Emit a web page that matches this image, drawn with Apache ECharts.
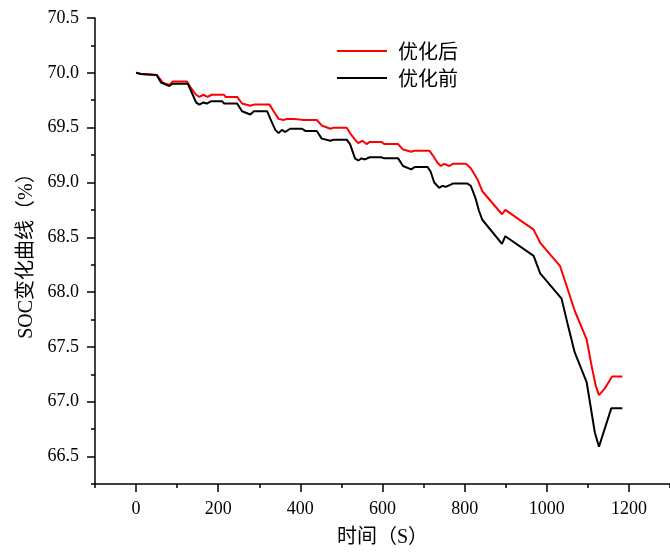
<!DOCTYPE html>
<html>
<head>
<meta charset="utf-8">
<script src="https://cdn.jsdelivr.net/npm/echarts@6/dist/echarts.min.js"></script>
<style>
  html, body { margin: 0; padding: 0; background: #fff; }
  #main { width: 670px; height: 553px; }
</style>
</head>
<body>
<div id="main"></div>
<script>
// 优化后
var timeAfter = [0, 12, 51, 65, 81, 89, 124, 134, 146, 154, 164, 174, 184, 214, 218, 246, 258, 278, 287, 325,
    335, 347, 359, 367, 384, 408, 440, 452, 473, 481, 513, 521, 533, 541, 551, 561, 569, 597, 605, 638,
    650, 670, 678, 714, 722, 734, 742, 750, 763, 771, 803, 815, 831, 843, 891, 899, 968, 984, 1032, 1048,
    1068, 1097, 1109, 1119, 1127, 1141, 1159, 1184];
var socAfter = [70.00, 69.99, 69.98, 69.91, 69.89, 69.92, 69.92, 69.86, 69.80, 69.78, 69.80, 69.78, 69.80, 69.80, 69.78, 69.78, 69.72, 69.70, 69.71, 69.71,
    69.65, 69.58, 69.57, 69.58, 69.58, 69.57, 69.57, 69.52, 69.49, 69.50, 69.50, 69.45, 69.39, 69.36, 69.38, 69.35, 69.37, 69.37, 69.35, 69.35,
    69.30, 69.28, 69.29, 69.29, 69.25, 69.18, 69.15, 69.17, 69.15, 69.17, 69.17, 69.13, 69.03, 68.92, 68.71, 68.75, 68.57, 68.45, 68.24, 68.06,
    67.83, 67.57, 67.33, 67.15, 67.06, 67.12, 67.23, 67.23];

// 优化前
var timeBefore = [0, 12, 50, 61, 81, 89, 126, 138, 146, 154, 164, 172, 182, 210, 214, 246, 258, 278, 287, 319,
    327, 339, 347, 355, 363, 375, 380, 404, 412, 440, 452, 473, 481, 513, 521, 533, 541, 549, 557, 569,
    597, 604, 638, 650, 670, 678, 710, 717, 726, 738, 746, 754, 766, 771, 807, 815, 827, 835, 843, 891,
    899, 968, 976, 984, 1036, 1052, 1068, 1097, 1117, 1127, 1157, 1184];
var socBefore = [70.00, 69.99, 69.98, 69.91, 69.88, 69.90, 69.90, 69.80, 69.73, 69.71, 69.73, 69.72, 69.74, 69.74, 69.72, 69.72, 69.65, 69.62, 69.65, 69.65,
    69.58, 69.48, 69.45, 69.48, 69.46, 69.49, 69.49, 69.49, 69.47, 69.47, 69.40, 69.38, 69.39, 69.39, 69.35, 69.22, 69.20, 69.22, 69.21, 69.23,
    69.23, 69.22, 69.22, 69.15, 69.12, 69.14, 69.14, 69.10, 69.00, 68.95, 68.97, 68.96, 68.98, 68.99, 68.99, 68.97, 68.85, 68.74, 68.66, 68.44,
    68.51, 68.33, 68.25, 68.17, 67.94, 67.69, 67.45, 67.18, 66.72, 66.59, 66.94, 66.94];

// 刻度
var xMajorTicks = [0, 200, 400, 600, 800, 1000, 1200];
var xMinorTicks = [-100, 100, 300, 500, 700, 900, 1100, 1300];
var yMajorTicks = [66.5, 67.0, 67.5, 68.0, 68.5, 69.0, 69.5, 70.0, 70.5];
var yMinorTicks = [66.25, 66.75, 67.25, 67.75, 68.25, 68.75, 69.25, 69.75, 70.25];

function zip(xs, ys) {
    return xs.map(function (x, i) { return [x, ys[i]]; });
}

var serif = 'Liberation Serif, DejaVu Serif, Noto Sans CJK SC';
var chart = echarts.init(document.getElementById('main'), null, { renderer: 'canvas' });

var option = {
    backgroundColor: '#ffffff',
    animation: false,
    grid: { left: 95, top: 18, right: -4, bottom: 66.5 },
    legend: {
        orient: 'vertical',
        left: 331,
        top: 36,
        itemWidth: 50,
        itemHeight: 20,
        itemGap: 7,
        itemStyle: { opacity: 0 },
        lineStyle: { width: 2 },
        textStyle: {
            fontFamily: 'Noto Sans CJK SC',
            fontSize: 20,
            lineHeight: 20,
            color: '#000',
            padding: [0, 0, 0, 6]
        },
        data: ['优化后', '优化前']
    },
    xAxis: [{
        type: 'value',
        position: 'bottom',
        min: -100,
        max: 1300,
        splitLine: { show: false },
        axisLine: { onZero: false, lineStyle: { color: '#000', width: 1.5 } },
        axisTick: { customValues: xMajorTicks, length: 8, lineStyle: { color: '#000', width: 1.5 } },
        axisLabel: {
            customValues: xMajorTicks, margin: 16, color: '#000',
            fontFamily: serif, fontSize: 18,
            formatter: function (v) { return String(v); }
        },
        name: '时间（S）',
        nameLocation: 'middle',
        nameGap: 44,
        nameTextStyle: { fontFamily: serif, fontSize: 20, color: '#000' }
    }, {
        type: 'value',
        position: 'bottom',
        min: -100,
        max: 1300,
        splitLine: { show: false },
        axisLine: { show: false, onZero: false },
        axisTick: { customValues: xMinorTicks, length: 4, lineStyle: { color: '#000', width: 1.5 } },
        axisLabel: { show: false }
    }],
    yAxis: [{
        type: 'value',
        position: 'left',
        min: 66.25,
        max: 70.5,
        splitLine: { show: false },
        axisLine: { show: true, onZero: false, lineStyle: { color: '#000', width: 1.5 } },
        axisTick: { show: true, customValues: yMajorTicks, length: 8, lineStyle: { color: '#000', width: 1.5 } },
        axisLabel: {
            customValues: yMajorTicks, margin: 16, color: '#000',
            fontFamily: serif, fontSize: 18,
            formatter: function (v) { return v.toFixed(1); }
        },
        name: 'SOC变化曲线（%）',
        nameLocation: 'middle',
        nameGap: 57,
        nameTextStyle: { fontFamily: serif, fontSize: 20, color: '#000' }
    }, {
        type: 'value',
        position: 'left',
        min: 66.25,
        max: 70.5,
        splitLine: { show: false },
        axisLine: { show: false, onZero: false },
        axisTick: { show: true, customValues: yMinorTicks, length: 4, lineStyle: { color: '#000', width: 1.5 } },
        axisLabel: { show: false }
    }],
    series: [{
        name: '优化后',
        type: 'line',
        xAxisIndex: 0,
        yAxisIndex: 0,
        symbol: 'none',
        color: '#ff0000',
        lineStyle: { color: '#ff0000', width: 2 },
        data: zip(timeAfter, socAfter)
    }, {
        name: '优化前',
        type: 'line',
        xAxisIndex: 0,
        yAxisIndex: 0,
        symbol: 'none',
        color: '#000000',
        lineStyle: { color: '#000000', width: 2 },
        data: zip(timeBefore, socBefore)
    }]
};

chart.setOption(option);
</script>
</body>
</html>
